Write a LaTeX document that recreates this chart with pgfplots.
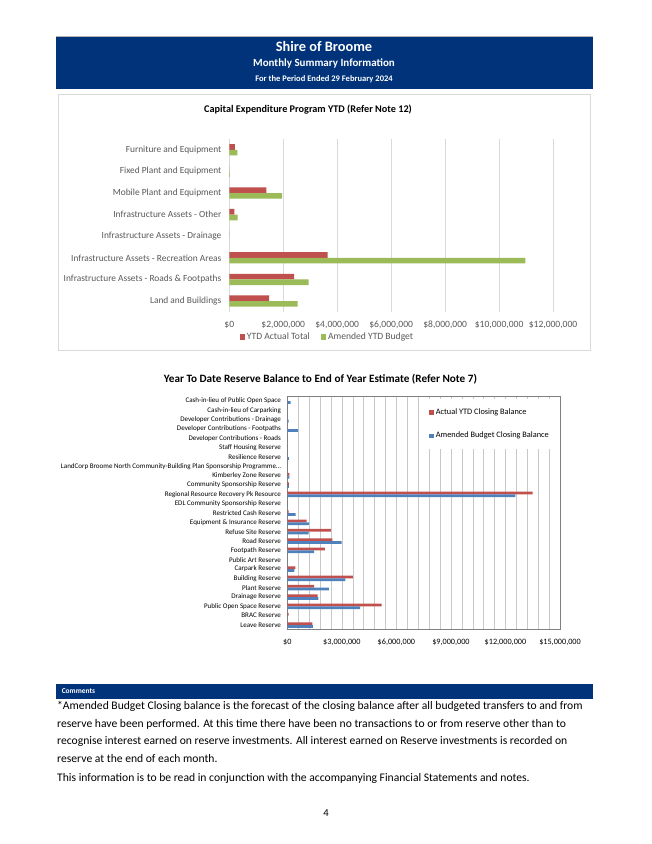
\documentclass[border=0pt]{standalone}
\usepackage{pgfplots}
\pgfplotsset{compat=1.18}
\usepackage{fontspec}
\setmainfont{Carlito}

\definecolor{hdr}{RGB}{0,51,122}
\definecolor{xred}{RGB}{192,80,77}
\definecolor{xgreen}{RGB}{155,187,89}
\definecolor{xblue}{RGB}{79,129,189}
\definecolor{gridc}{RGB}{217,217,217}
\definecolor{grid2}{RGB}{200,200,200}
\definecolor{labc}{RGB}{89,89,89}

\newcommand{\fs}[1]{\fontsize{#1}{1.2\dimexpr#1pt\relax}\selectfont}

\begin{document}
\begin{tikzpicture}[x=0.9387pt,y=-0.9387pt]
\fill[white] (0,0) rectangle (652,844);
\coordinate (A1) at (229.3,311.8);
\coordinate (A2) at (287.3,629.7);

% header
\draw[gray!60] (56,36) -- (593,36);
\fill[hdr] (56,37) rectangle (593,89);
\node[white,font=\bfseries\fs{13.5}] at (324,47) {Shire of Broome};
\node[white,font=\bfseries\fs{10.3}] at (324,64) {Monthly Summary Information};
\node[white,font=\bfseries\fs{8}] at (324,79) {For the Period Ended 29 February 2024};

% chart 1 frame and title
\draw[gridc] (58,94) rectangle (590,350);
\node[font=\bfseries\fs{9.6}] at (308,110) {Capital Expenditure Program YTD (Refer Note 12)};

\begin{axis}[
  at={(A1)}, anchor=south west,
  scale only axis, width=303.9pt, height=162.2pt,
  xbar, bar width=5.3pt,
  xmin=0, xmax=12000000, ymin=-0.5, ymax=7.5,
  scaled x ticks=false,
  axis line style={draw=none}, tick style={draw=none},
  xmajorgrids, major grid style={gridc},
  xtick={0,2000000,4000000,6000000,8000000,10000000,12000000},
  xticklabels={{\$0},{\$2,000,000},{\$4,000,000},{\$6,000,000},{\$8,000,000},{\$10,000,000},{\$12,000,000}},
  ytick={0,1,2,3,4,5,6,7},
  yticklabels={Land and Buildings,Infrastructure Assets - Roads \& Footpaths,Infrastructure Assets - Recreation Areas,Infrastructure Assets - Drainage,Infrastructure Assets - Other,Mobile Plant and Equipment,Fixed Plant and Equipment,Furniture and Equipment},
  tick label style={font=\fs{8.8}, text=labc},
  yticklabel style={inner sep=0pt, xshift=-3pt},
  xticklabel style={font=\fs{9}, inner sep=0pt, anchor=base, yshift=-15pt},
  legend columns=2,
  legend style={at={(0.303,-0.145)}, anchor=center, draw=none, fill=none, font=\fs{9}, text=labc,
    /tikz/every even column/.append style={column sep=8pt}},
  legend image code/.code={\fill[#1] (0pt,-2.5pt) rectangle (5pt,2.5pt);},
]
\addplot[fill=xred, draw=none, bar shift=2.65pt] coordinates {
  (1480000,0) (2400000,1) (3640000,2) (0,3) (190000,4) (1370000,5) (0,6) (210000,7)};
\addplot[fill=xgreen, draw=none, bar shift=-2.65pt] coordinates {
  (2530000,0) (2940000,1) (10970000,2) (0,3) (310000,4) (1960000,5) (25000,6) (300000,7)};
\legend{YTD Actual Total, Amended YTD Budget}
\end{axis}

% chart 2
\node[font=\bfseries\fs{10.5}] at (320.5,379) {Year To Date Reserve Balance to End of Year Estimate (Refer Note 7)};

\begin{axis}[
  at={(A2)}, anchor=south west,
  scale only axis, width=256pt, height=219pt,
  xbar, bar width=2.6pt,
  xmin=0, xmax=15000000, ymin=-0.5, ymax=24.5,
  scaled x ticks=false,
  x axis line style={draw=none},
  y axis line style={draw=gray},
  tick style={draw=none},
  xmajorgrids, xminorgrids, minor x tick num=4,
  major grid style={grid2}, minor grid style={grid2},
  xtick={0,3000000,6000000,9000000,12000000,15000000},
  xticklabels={{\$0},{\$3,000,000},{\$6,000,000},{\$9,000,000},{\$12,000,000},{\$15,000,000}},
  ytick={0,1,2,3,4,5,6,7,8,9,10,11,12,13,14,15,16,17,18,19,20,21,22,23,24},
  yticklabels={Leave Reserve,BRAC  Reserve,Public Open Space Reserve,Drainage Reserve,Plant Reserve,Building Reserve,Carpark Reserve,Public Art Reserve,Footpath Reserve,Road Reserve,Refuse Site Reserve,Equipment \& Insurance Reserve,Restricted Cash Reserve,EDL Community Sponsorship Reserve,Regional Resource Recovery Pk Resource,Community Sponsorship Reserve,Kimberley Zone Reserve,{LandCorp Broome North Community-Building Plan Sponsorship Programme\ldots},Resilience Reserve,Staff Housing Reserve,Developer Contributions - Roads,Developer Contributions - Footpaths,Developer Contributions - Drainage,Cash-in-lieu of Carparking,Cash-in-lieu of Public Open Space},
  yticklabel style={font=\fs{6.6}, inner sep=0pt, xshift=-1.5pt},
  xticklabel style={font=\fs{7.7}, inner sep=0pt, anchor=base, yshift=-13.9pt},
  legend style={at={(0.505,0.989)}, anchor=north west, draw=none, fill=white, font=\fs{7.8},
    row sep=11pt, inner xsep=4pt, inner ysep=7pt},
  legend cell align=left,
  legend image code/.code={\fill[#1] (0pt,-2pt) rectangle (4pt,2pt);},
]
\addplot[fill=xred, draw=none, bar shift=1.3pt] coordinates {
  (1380000,0) (70000,1) (5190000,2) (1670000,3) (1470000,4) (3610000,5) (440000,6) (0,7)
  (2060000,8) (2480000,9) (2400000,10) (1060000,11) (70000,12) (20000,13) (13500000,14)
  (90000,15) (120000,16) (0,17) (0,18) (0,19) (0,20) (0,21) (0,22) (0,23) (0,24)};
\addplot[fill=xblue, draw=none, bar shift=-1.3pt] coordinates {
  (1410000,0) (0,1) (4000000,2) (1710000,3) (2280000,4) (3190000,5) (390000,6) (0,7)
  (1470000,8) (2990000,9) (1170000,10) (1190000,11) (460000,12) (20000,13) (12550000,14)
  (90000,15) (120000,16) (0,17) (90000,18) (0,19) (0,20) (590000,21) (70000,22) (10000,23) (180000,24)};
\legend{Actual YTD Closing Balance, Amended Budget Closing Balance}
\end{axis}

% comments
\fill[hdr] (56,684) rectangle (593,699);
\node[white,font=\bfseries\fs{7}, anchor=west] at (58,691.5) {Comments};
\begin{scope}[every node/.style={anchor=base west, inner sep=0pt, font=\fs{10.9}}]
\node at (57,709) {*Amended Budget Closing balance is the forecast of the closing balance after all budgeted transfers to and from};
\node at (57,727) {reserve have been performed. At this time there have been no transactions to or from reserve other than to};
\node at (57,744.5) {recognise interest earned on reserve investments. All interest earned on Reserve investments is recorded on};
\node at (57,762) {reserve at the end of each month.};
\node at (57,781) {This information is to be read in conjunction with the accompanying Financial Statements and notes.};
\end{scope}
\node[font=\fs{10}] at (326,813) {4};
\end{tikzpicture}
\end{document}
